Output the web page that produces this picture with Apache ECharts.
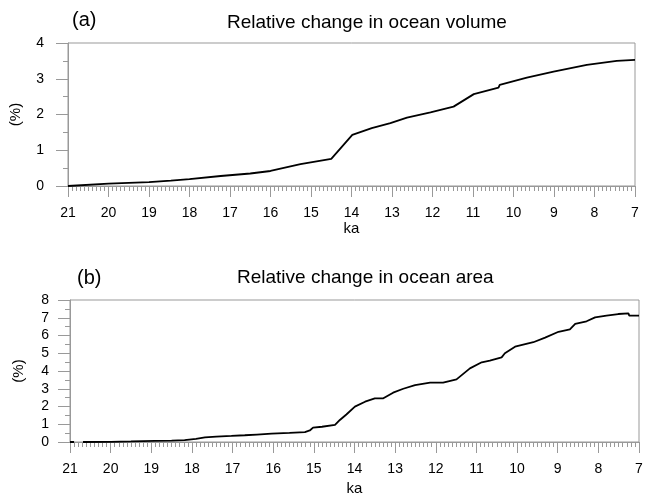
<!DOCTYPE html>
<html>
<head>
<meta charset="utf-8">
<script src="https://cdn.jsdelivr.net/npm/echarts@6/dist/echarts.min.js"></script>
<style>
  html, body { margin: 0; padding: 0; background: #fff; }
  #chart { width: 652px; height: 497px; }
</style>
</head>
<body>
<div id="chart"></div>
<script>
// (a) ocean volume, ka vs %
const volumeKa = [21, 20, 19, 18.46, 18, 17.23, 16.5, 16.0, 15.26, 14.5, 13.98, 13.5, 13.04, 12.63, 12.05, 11.48, 10.98, 10.37, 10.34, 9.67, 9.01, 8.19, 7.45, 7.0];
const volumePct = [0, 0.065, 0.11, 0.15, 0.19, 0.28, 0.35, 0.42, 0.61, 0.76, 1.43, 1.62, 1.76, 1.91, 2.06, 2.22, 2.57, 2.75, 2.83, 3.03, 3.20, 3.39, 3.50, 3.53];

// (b) ocean area, null marks the short gap near 21 ka
const areaKa = [21.0, 20.9, 20.8, 20.68, 20.0, 19.5, 18.91, 18.5, 18.18, 17.9, 17.68, 17.4, 17.03, 16.7, 16.4, 16.04, 15.6, 15.22, 15.1, 15.02, 14.8, 14.48, 14.36, 14.2, 13.99, 13.74, 13.5, 13.29, 13.05, 12.8, 12.51, 12.14, 11.82, 11.49, 11.16, 10.87, 10.67, 10.38, 10.30, 10.05, 9.60, 9.31, 8.98, 8.70, 8.57, 8.29, 8.08, 7.80, 7.51, 7.26, 7.24, 7.0];
const areaPct = [0, 0, null, 0, 0.01, 0.03, 0.06, 0.08, 0.11, 0.18, 0.26, 0.30, 0.34, 0.38, 0.42, 0.47, 0.51, 0.56, 0.65, 0.81, 0.86, 0.96, 1.24, 1.55, 1.99, 2.27, 2.46, 2.46, 2.78, 3.0, 3.21, 3.34, 3.34, 3.53, 4.15, 4.49, 4.58, 4.77, 5.0, 5.37, 5.62, 5.88, 6.21, 6.35, 6.65, 6.80, 7.02, 7.12, 7.21, 7.25, 7.12, 7.12];

const FONT = 'Liberation Sans';
const GRAY = '#999';

function pairs(xs, ys) {
  return xs.map((x, i) => [x, ys[i] === null ? '-' : ys[i]]);
}

function xAxisFor(gridIndex, nameGap) {
  return {
    gridIndex: gridIndex,
    type: 'value',
    inverse: true,
    min: 7, max: 21, interval: 1,
    name: 'ka',
    nameLocation: 'middle',
    nameGap: nameGap,
    nameTextStyle: { fontFamily: FONT, fontSize: 15, color: '#000' },
    axisLine: { lineStyle: { color: GRAY, width: 1 } },
    axisTick: { length: 11, lineStyle: { color: GRAY } },
    minorTick: { show: true, splitNumber: 10, length: 5, lineStyle: { color: GRAY } },
    splitLine: { show: false },
    axisLabel: { margin: 20, fontFamily: FONT, fontSize: 14, color: '#000' }
  };
}

function yAxisFor(gridIndex, max, margin, nameGap) {
  return {
    gridIndex: gridIndex,
    type: 'value',
    min: 0, max: max, interval: 1,
    name: '(%)',
    nameLocation: 'middle',
    nameGap: nameGap,
    nameTextStyle: { fontFamily: FONT, fontSize: 15, color: '#000' },
    axisLine: { show: true, lineStyle: { color: GRAY, width: 1 } },
    axisTick: { show: true, length: 12, lineStyle: { color: GRAY } },
    minorTick: { show: true, splitNumber: 2, length: 5, lineStyle: { color: GRAY } },
    splitLine: { show: false },
    axisLabel: { margin: margin, fontFamily: FONT, fontSize: 14, color: '#000' }
  };
}

const chart = echarts.init(document.getElementById('chart'));

const option = {
  animation: false,
  backgroundColor: '#fff',
  title: [
    { text: '(a)', left: 67, top: 5, textStyle: { fontFamily: FONT, fontSize: 20, fontWeight: 'normal', color: '#000' } },
    { text: 'Relative change in ocean volume', left: 222, top: 8, textStyle: { fontFamily: FONT, fontSize: 19, fontWeight: 'normal', color: '#000' } },
    { text: '(b)', left: 72, top: 263, textStyle: { fontFamily: FONT, fontSize: 20, fontWeight: 'normal', color: '#000' } },
    { text: 'Relative change in ocean area', left: 232, top: 263, textStyle: { fontFamily: FONT, fontSize: 19, fontWeight: 'normal', color: '#000' } }
  ],
  grid: [
    { left: 67, top: 43, width: 568, height: 143, show: true, borderColor: GRAY, borderWidth: 1 },
    { left: 70, top: 300, width: 569, height: 142, show: true, borderColor: GRAY, borderWidth: 1 }
  ],
  xAxis: [xAxisFor(0, 32), xAxisFor(1, 39)],
  yAxis: [yAxisFor(0, 4, 24, 45), yAxisFor(1, 8, 21, 44)],
  series: [
    {
      type: 'line', xAxisIndex: 0, yAxisIndex: 0,
      data: pairs(volumeKa, volumePct),
      showSymbol: false,
      lineStyle: { color: '#000', width: 1.8 }
    },
    {
      type: 'line', xAxisIndex: 1, yAxisIndex: 1,
      data: pairs(areaKa, areaPct),
      showSymbol: false,
      connectNulls: false,
      lineStyle: { color: '#000', width: 1.8 }
    }
  ]
};

chart.setOption(option);
</script>
</body>
</html>
